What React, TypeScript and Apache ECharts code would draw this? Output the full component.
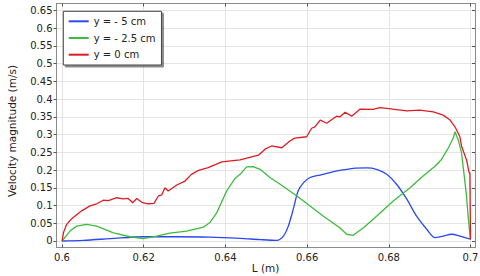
import React, { useEffect, useRef } from "react";
import * as echarts from "echarts";

const xTickLabels = ["0.6", "0.62", "0.64", "0.66", "0.68", "0.7"];
const yTickLabels = ["0", "0.05", "0.1", "0.15", "0.2", "0.25", "0.3", "0.35", "0.4", "0.45", "0.5", "0.55", "0.6", "0.65"];

const xAxisTitle = "L (m)";
const yAxisTitle = "Velocity magnitude (m/s)";

const seriesNames = ["y = - 5 cm", "y = - 2.5 cm", "y = 0 cm"];
const seriesColors = ["#2a48f0", "#3dbb3d", "#dd1c22"];

const blueX = [0.6, 0.6052, 0.6118, 0.62, 0.628, 0.6362, 0.6436, 0.6485, 0.6526, 0.6542, 0.6554, 0.6566, 0.6578, 0.6591, 0.6607, 0.6632, 0.6656, 0.668, 0.6713, 0.6746, 0.677, 0.6795, 0.6819, 0.6844, 0.6868, 0.6893, 0.6913, 0.6933, 0.6954, 0.6974, 0.7];
const blueY = [0.0, 0.002, 0.0065, 0.012, 0.012, 0.011, 0.0075, 0.004, 0.002, 0.014, 0.042, 0.089, 0.141, 0.164, 0.179, 0.186, 0.193, 0.199, 0.205, 0.206, 0.202, 0.188, 0.16, 0.118, 0.07, 0.033, 0.0095, 0.014, 0.019, 0.014, 0.005];

const greenX = [0.6, 0.60196, 0.6036, 0.606, 0.6085, 0.6126, 0.6166, 0.6199, 0.6232, 0.6264, 0.6305, 0.6346, 0.6362, 0.6379, 0.6403, 0.6424, 0.6436, 0.6452, 0.6468, 0.6485, 0.6509, 0.6534, 0.6575, 0.664, 0.668, 0.6697, 0.6713, 0.6738, 0.677, 0.6811, 0.6852, 0.6884, 0.6913, 0.6929, 0.6946, 0.6958, 0.6962, 0.697, 0.6978, 0.6985, 0.699, 0.6995, 0.7];
const greenY = [0.0, 0.028, 0.042, 0.047, 0.042, 0.023, 0.012, 0.0065, 0.014, 0.022, 0.028, 0.039, 0.052, 0.08, 0.141, 0.177, 0.188, 0.209, 0.21, 0.202, 0.179, 0.16, 0.127, 0.07, 0.0375, 0.019, 0.016, 0.0375, 0.07, 0.113, 0.15, 0.183, 0.211, 0.23, 0.263, 0.291, 0.308, 0.285, 0.249, 0.18, 0.13, 0.06, 0.003];

const redX = [0.6, 0.6004, 0.60115, 0.60237, 0.60482, 0.60685, 0.6085, 0.6101, 0.61135, 0.6134, 0.615, 0.6162, 0.6173, 0.6183, 0.6197, 0.6211, 0.6225, 0.6236, 0.6244, 0.6252, 0.626, 0.6281, 0.6301, 0.6317, 0.6334, 0.6358, 0.6391, 0.6436, 0.6481, 0.6497, 0.6513, 0.6538, 0.6558, 0.657, 0.6599, 0.6611, 0.6619, 0.6632, 0.6648, 0.6672, 0.668, 0.6693, 0.6709, 0.673, 0.6762, 0.6778, 0.6795, 0.6844, 0.6876, 0.6909, 0.6933, 0.695, 0.6962, 0.6974, 0.6978, 0.6991, 0.6996, 0.69985, 0.7];
const redY = [0.0, 0.025, 0.047, 0.063, 0.085, 0.099, 0.105, 0.115, 0.114, 0.122, 0.119, 0.12, 0.108, 0.12, 0.108, 0.105, 0.106, 0.127, 0.13, 0.15, 0.141, 0.158, 0.169, 0.188, 0.199, 0.207, 0.223, 0.229, 0.242, 0.259, 0.268, 0.263, 0.282, 0.29, 0.294, 0.318, 0.322, 0.341, 0.332, 0.352, 0.35, 0.363, 0.352, 0.372, 0.371, 0.376, 0.374, 0.367, 0.369, 0.364, 0.355, 0.341, 0.322, 0.294, 0.268, 0.226, 0.195, 0.19, 0.005];

const FONT = "DejaVu Sans";

function pairs(xs: number[], ys: number[]) {
  return xs.map((x, i) => [x, ys[i]]);
}

export default function App() {
  const ref = useRef<HTMLDivElement>(null);
  useEffect(() => {
    if (!ref.current) return;
    const chart = echarts.init(ref.current, undefined, { renderer: "svg" });
    const xVals = xTickLabels.map(Number);
    const yVals = yTickLabels.map(Number);
    const frameColor = "#8a8a8a";
    const gridColor = "#e4e4e4";
    const option: any = {
      animation: false,
      backgroundColor: "#ffffff",
      textStyle: { fontFamily: FONT },
      grid: { left: 56.5, top: 3.5, right: 5, bottom: 28.5, containLabel: false, outerBoundsMode: "none" },
      legend: {
        left: 63.3,
        top: 11.3,
        orient: "vertical",
        padding: [4, 6, 4.3, 5.4],
        itemGap: 4.7,
        itemWidth: 20,
        itemHeight: 2,
        icon: "rect",
        backgroundColor: "#ffffff",
        borderColor: "#444444",
        borderWidth: 1,
        shadowColor: "rgba(0,0,0,0.45)",
        shadowOffsetX: 2,
        shadowOffsetY: 2,
        shadowBlur: 1,
        textStyle: { fontFamily: FONT, fontSize: 10, color: "#222", lineHeight: 12 },
        data: seriesNames,
      },
      xAxis: [
        {
          type: "value",
          position: "bottom",
          min: 0.598654,
          max: 0.701102,
          axisLine: { show: true, onZero: false, lineStyle: { color: frameColor, width: 1 } },
          axisTick: { show: true, inside: true, length: 3, customValues: xVals, lineStyle: { color: "#555" } },
          axisLabel: {
            show: true,
            customValues: xVals,
            margin: 5,
            fontFamily: FONT,
            fontSize: 10,
            color: "#222",
            formatter: (v: number) => xTickLabels[xVals.findIndex((t) => Math.abs(t - v) < 1e-9)] ?? String(v),
          },
          splitLine: { show: true, lineStyle: { color: gridColor, width: 1 } },
        },
        {
          type: "value",
          position: "top",
          min: 0.598654,
          max: 0.701102,
          axisLine: { show: true, onZero: false, lineStyle: { color: frameColor, width: 1 } },
          axisTick: { show: true, inside: true, length: 3, customValues: xVals, lineStyle: { color: "#555" } },
          axisLabel: { show: false },
          splitLine: { show: false },
        },
      ],
      yAxis: [
        {
          type: "value",
          position: "left",
          min: -0.01833,
          max: 0.66974,
          axisLine: { show: true, onZero: false, lineStyle: { color: frameColor, width: 1 } },
          axisTick: { show: true, inside: false, length: 3, customValues: yVals, lineStyle: { color: "#555" } },
          axisLabel: {
            show: true,
            customValues: yVals,
            margin: 4,
            fontFamily: FONT,
            fontSize: 10,
            color: "#222",
            formatter: (v: number) => yTickLabels[yVals.findIndex((t) => Math.abs(t - v) < 1e-9)] ?? String(v),
          },
          splitLine: { show: true, lineStyle: { color: gridColor, width: 1 } },
        },
        {
          type: "value",
          position: "right",
          min: -0.01833,
          max: 0.66974,
          axisLine: { show: true, onZero: false, lineStyle: { color: frameColor, width: 1 } },
          axisTick: { show: true, inside: true, length: 3, customValues: yVals, lineStyle: { color: "#555" } },
          axisLabel: { show: false },
          splitLine: { show: false },
        },
      ],
      graphic: [
        {
          type: "text",
          x: 12,
          y: 131,
          rotation: Math.PI / 2,
          style: {
            text: yAxisTitle,
            fontFamily: FONT,
            fontSize: 10.5,
            fill: "#222",
            align: "center",
            verticalAlign: "middle",
          },
        },
        {
          type: "text",
          x: 265.5,
          y: 267.5,
          style: {
            text: xAxisTitle,
            fontFamily: FONT,
            fontSize: 10.5,
            fill: "#222",
            align: "center",
            verticalAlign: "middle",
          },
        },
      ],
      series: [
        {
          name: seriesNames[0],
          type: "line",
          xAxisIndex: 0,
          yAxisIndex: 0,
          data: pairs(blueX, blueY),
          showSymbol: false,
          smooth: 0.3,
          lineStyle: { color: seriesColors[0], width: 1.3 },
          itemStyle: { color: seriesColors[0] },
        },
        {
          name: seriesNames[1],
          type: "line",
          xAxisIndex: 0,
          yAxisIndex: 0,
          data: pairs(greenX, greenY),
          showSymbol: false,
          lineStyle: { color: seriesColors[1], width: 1.3 },
          itemStyle: { color: seriesColors[1] },
        },
        {
          name: seriesNames[2],
          type: "line",
          xAxisIndex: 0,
          yAxisIndex: 0,
          data: pairs(redX, redY),
          showSymbol: false,
          lineStyle: { color: seriesColors[2], width: 1.3 },
          itemStyle: { color: seriesColors[2] },
        },
      ],
    };
    chart.setOption(option);
    return () => chart.dispose();
  }, []);
  return <div ref={ref} style={{ width: 480, height: 276, position: "absolute", left: 0, top: 0 }} />;
}
